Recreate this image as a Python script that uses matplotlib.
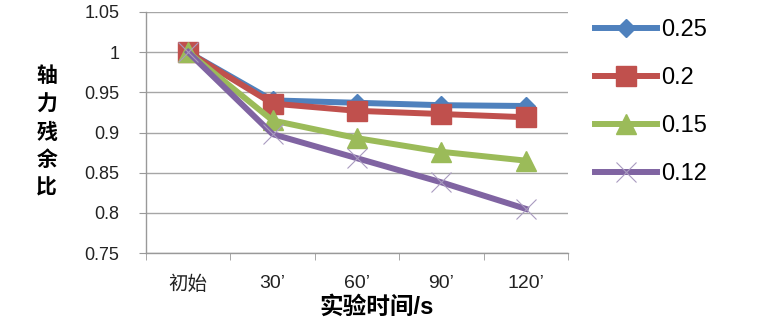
import matplotlib
matplotlib.use("Agg")
import matplotlib.pyplot as plt
import numpy as np

plt.rcParams['font.family'] = ['Liberation Sans', 'Noto Sans CJK SC', 'DejaVu Sans']

# data
categories = ['初始', '30’', '60’', '90’', '120’']
series_names = ['0.25', '0.2', '0.15', '0.12']
s025 = [1.0, 0.940, 0.937, 0.934, 0.933]
s020 = [1.0, 0.936, 0.927, 0.923, 0.919]
s015 = [1.0, 0.915, 0.893, 0.876, 0.865]
s012 = [1.0, 0.898, 0.868, 0.838, 0.805]
yticks = [0.75, 0.8, 0.85, 0.9, 0.95, 1.0, 1.05]
ytick_labels = ['0.75', '0.8', '0.85', '0.9', '0.95', '1', '1.05']

colors = ['#4F81BD', '#C0504D', '#9BBB59', '#8064A2']
markers = ['D', 's', '^', 'x']
msizes = [9, 14, 14, 14]

fig = plt.figure(figsize=(7.66, 3.24), dpi=100)
ax = fig.add_axes([0.1906, 0.219, 0.5509, 0.744])

x = np.arange(len(categories))
for vals, name, c, m, ms in zip([s025, s020, s015, s012], series_names, colors, markers, msizes):
    if m == 'x':
        ax.plot(x, vals, color=c, lw=4.3, marker=m, ms=ms, mew=0.8, mec='#A99BC0',
                label=name, zorder=3)
    else:
        ax.plot(x, vals, color=c, lw=4.3, marker=m, ms=ms, mec=c, label=name, zorder=3)

ax.set_xlim(-0.5, len(categories) - 0.5)
ax.set_ylim(0.75, 1.05)
ax.set_yticks(yticks)
ax.set_yticklabels(ytick_labels, fontsize=13, color='#222222')
ax.set_xticks(x)
ax.set_xticklabels(categories, fontsize=14, color='#222222')
ax.set_xticks(np.arange(len(categories) + 1) - 0.5, minor=True)
ax.tick_params(axis='x', which='major', length=0, pad=16)
ax.tick_params(axis='x', which='minor', length=5, color='#999999', direction='out')
ax.tick_params(axis='y', length=5, color='#999999', direction='out', pad=14)

ax.grid(axis='y', color='#A6A6A6', lw=1)
ax.set_axisbelow(True)
for s in ['top', 'right']:
    ax.spines[s].set_visible(False)
for s in ['left', 'bottom']:
    ax.spines[s].set_color('#999999')
    ax.spines[s].set_linewidth(1)

fig.text(0.061, 0.593, '轴\n力\n残\n余\n比', fontsize=15, fontweight='bold',
         ha='center', va='center', linespacing=1.5)
fig.text(0.491, 0.052, '实验时间/s', fontsize=17, fontweight='bold',
         ha='center', va='center')

leg = ax.legend(loc='upper left', bbox_to_anchor=(0.777, 0.94),
                bbox_transform=fig.transFigure, frameon=False,
                fontsize=17, handlelength=2.6, labelspacing=1.1, handletextpad=0.2,
                borderaxespad=0, borderpad=0)

fig.savefig('out.png', dpi=100)
